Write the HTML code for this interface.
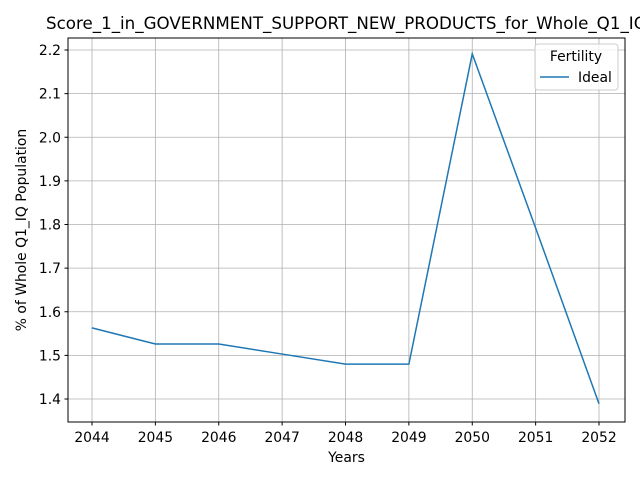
<!DOCTYPE html>
<html><head><meta charset="utf-8"><style>body{margin:0;background:#fff}svg{display:block;font-family:"DejaVu Sans","Liberation Sans",sans-serif}</style></head>
<body>
<svg id="chart" width="640" height="480" viewBox="0 0 640 480">
<rect width="640" height="480" fill="#fff"/>
<g id="grid"></g>
<g id="ticks"></g>
<rect x="68" y="38" width="557" height="384" fill="none" stroke="#000" stroke-width="1"/>
<text x="46" y="29" font-size="16.7">Score_1_in_GOVERNMENT_SUPPORT_NEW_PRODUCTS_for_Whole_Q1_IQ</text>
<text x="346.5" y="462" font-size="13.9" text-anchor="middle">Years</text>
<text transform="translate(26,230) rotate(-90)" font-size="13.9" text-anchor="middle">% of Whole Q1_IQ Population</text>
<g>
<rect x="535" y="44" width="83" height="46" rx="3" fill="#fff" fill-opacity="0.8" stroke="#ccc"/>
<text x="576" y="61" font-size="13.9" text-anchor="middle">Fertility</text>
<line x1="540" y1="77" x2="569" y2="77" stroke="#1f77b4" stroke-width="1.5"/>
<text x="578" y="82" font-size="13.9">Ideal</text>
</g>
<path id="line" fill="none" stroke="#1f77b4" stroke-width="1.5"/>
</svg>
<script>
const years = [2044,2045,2046,2047,2048,2049,2050,2051,2052];
const ideal = [1.563,1.526,1.526,1.503,1.480,1.480,2.191,1.792,1.389];
const yTicks = [1.4,1.5,1.6,1.7,1.8,1.9,2.0,2.1,2.2];
const xScale = v => 92 + (v-2044)*(599-92)/8;
const yScale = v => 399 - (v-1.4)*(399-50)/0.8;
const NS="http://www.w3.org/2000/svg";
const grid=document.getElementById('grid'), ticks=document.getElementById('ticks');
function mk(tag,attrs,parent){const e=document.createElementNS(NS,tag);for(const k in attrs)e.setAttribute(k,attrs[k]);parent.appendChild(e);return e;}
years.forEach(y=>{const x=xScale(y);
 const g=mk('line',{x1:x,x2:x,y1:38,y2:422,stroke:'#b0b0b0','stroke-width':0.8},grid);
 
 
 mk('line',{x1:x,x2:x,y1:422,y2:425.5,stroke:'#000'},ticks);
 const t=mk('text',{x:x,y:442,'font-size':13.9,'text-anchor':'middle'},ticks);t.textContent=y;
 
 
});
yTicks.forEach(v=>{const y=yScale(v);
 const g=mk('line',{x1:68,x2:625,y1:y,y2:y,stroke:'#b0b0b0','stroke-width':0.8},grid);
 
 
 mk('line',{x1:64.5,x2:68,y1:y,y2:y,stroke:'#000'},ticks);
 const t=mk('text',{x:61,y:y+5,'font-size':13.9,'text-anchor':'end'},ticks);t.textContent=v.toFixed(1);
 
 
});
document.getElementById('line').setAttribute('d',years.map((y,i)=>(i?'L':'M')+xScale(y)+','+yScale(ideal[i])).join(' '));
</script>
</body></html>
